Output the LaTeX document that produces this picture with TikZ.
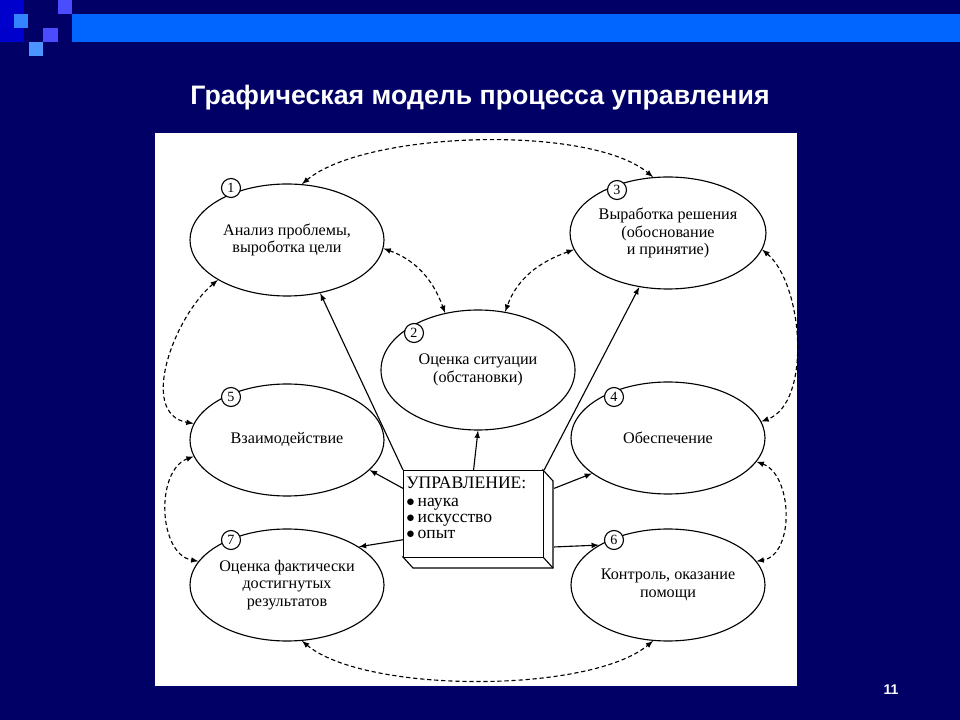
\documentclass[tikz,border=0pt]{standalone}
\usepackage{fontspec}
\setmainfont{Liberation Serif}
\newfontfamily\titlefont{Liberation Sans}
\usetikzlibrary{arrows,shapes,positioning}
\definecolor{slidebg}{HTML}{000066}
\definecolor{barblue}{HTML}{0066FF}
\newlength{\pxu}
\setlength{\pxu}{0.025cm}
\tikzset{
    stage/.style={
    ellipse,draw=black,thick,minimum width=194\pxu,minimum height=112\pxu,
    align=center,font=\fontsize{11.5}{12.5}\selectfont,inner sep=0pt
    },
    stagenum/.style={
    circle,draw=black,thick,fill=white,inner sep=0pt,minimum size=19\pxu,
    font=\fontsize{10}{10}\selectfont
    },
    link/.style={
    -latex,thick
    },
    dlink/.style={
    latex-latex,thick,dashed,dash pattern=on 3pt off 2pt
    },
}
\begin{document}
\begin{tikzpicture}[x=0.025cm,y=-0.025cm]
  \fill[slidebg] (0,0) rectangle (960,720);
  \useasboundingbox (0,0) rectangle (960,720);
  % header decoration
  \fill[barblue] (72,14) rectangle (960,42);
  \fill[blue!80!black] (0,0) rectangle (24,42);
  \fill[barblue!80] (14,14) rectangle (28,28);
  \fill[blue!70] (58,0) rectangle (72,14);
  \fill[blue!70] (43,28) rectangle (58,42);
  \fill[barblue!70] (29,42) rectangle (43,56);
  \node[text=white,font=\titlefont\bfseries\fontsize{19}{22}\selectfont] (title) at (480,98) {Графическая модель процесса управления};
  \node[text=white,font=\titlefont\bfseries\fontsize{10}{12}\selectfont] (page) at (891,690) {11};
  % white panel
  \fill[white] (155,133) rectangle (797,686);

  \node[stage] (S1) at (287,240) {Анализ проблемы,\\выроботка цели};
  \node[stage] (S3) at (668,233) {Выработка решения\\(обоснование\\и принятие)};
  \node[stage,minimum height=120\pxu] (S2) at (478,370) {Оценка ситуации\\(обстановки)};
  \node[stage] (S5) at (287,440) {Взаимодействие};
  \node[stage] (S4) at (668,438) {Обеспечение};
  \node[stage] (S7) at (287,585) {Оценка фактически\\достигнутых\\результатов};
  \node[stage] (S6) at (668,585) {Контроль, оказание\\помощи};

  \node[stagenum] (N1) at (231,188) {1};
  \node[stagenum] (N3) at (617,190) {3};
  \node[stagenum] (N2) at (414,333) {2};
  \node[stagenum] (N5) at (231,397) {5};
  \node[stagenum] (N4) at (614,397) {4};
  \node[stagenum] (N7) at (231,540) {7};
  \node[stagenum] (N6) at (614,540) {6};

  % 3d box
  \filldraw[fill=white,thick] (543,470) -- (553,481) -- (553,568) -- (413,568) -- (403,557) -- (543,557) -- cycle;
  \draw[thick] (543,557) -- (553,568);
  \node[draw=black,thick,fill=white,minimum width=140\pxu,minimum height=87\pxu,
    anchor=north west,inner sep=0pt] (CORE) at (403,470) {};
  \node[anchor=north west,align=left,inner sep=0pt,font=\fontsize{12.5}{11.5}\selectfont] (CORETXT) at (406,477)
    {УПРАВЛЕНИЕ:\\[1pt]$\bullet$\,наука\\$\bullet$\,искусство\\$\bullet$\,опыт};

  \draw[link] (CORE.north west) -- (S1.-58);
  \draw[link] (CORE.north east) -- (S3.-118);
  \draw[link] (CORE.north) -- (S2.south);
  \draw[link] (CORE.160) -- (S5.-20);
  \draw[link] ([xshift=10\pxu]CORE.20) -- (S4.-155);
  \draw[link] (CORE.-160) -- (S7.28);
  \draw[link] ([xshift=10\pxu]CORE.-25) -- (S6.150);

  \draw[dlink] (S1.75) to[out=40,in=140,looseness=0.6] (S3.105);
  \draw[dlink] (S1.-5) to[out=-20,in=110] (S2.120);
  \draw[dlink] (S3.-170) to[out=-160,in=70] (S2.65);
  \draw[dlink] (S1.-150) to[out=-140,in=170] (S5.170);
  \draw[dlink] (S5.-170) to[out=-160,in=170] (S7.165);
  \draw[dlink] (S3.-10) to[out=-40,in=20,looseness=0.8] (S4.10);
  \draw[dlink] (S4.-15) to[out=-20,in=10] (S6.15);
  \draw[dlink] (S7.-75) to[out=-40,in=-140,looseness=0.6] (S6.-105);
\end{tikzpicture}
\end{document}
